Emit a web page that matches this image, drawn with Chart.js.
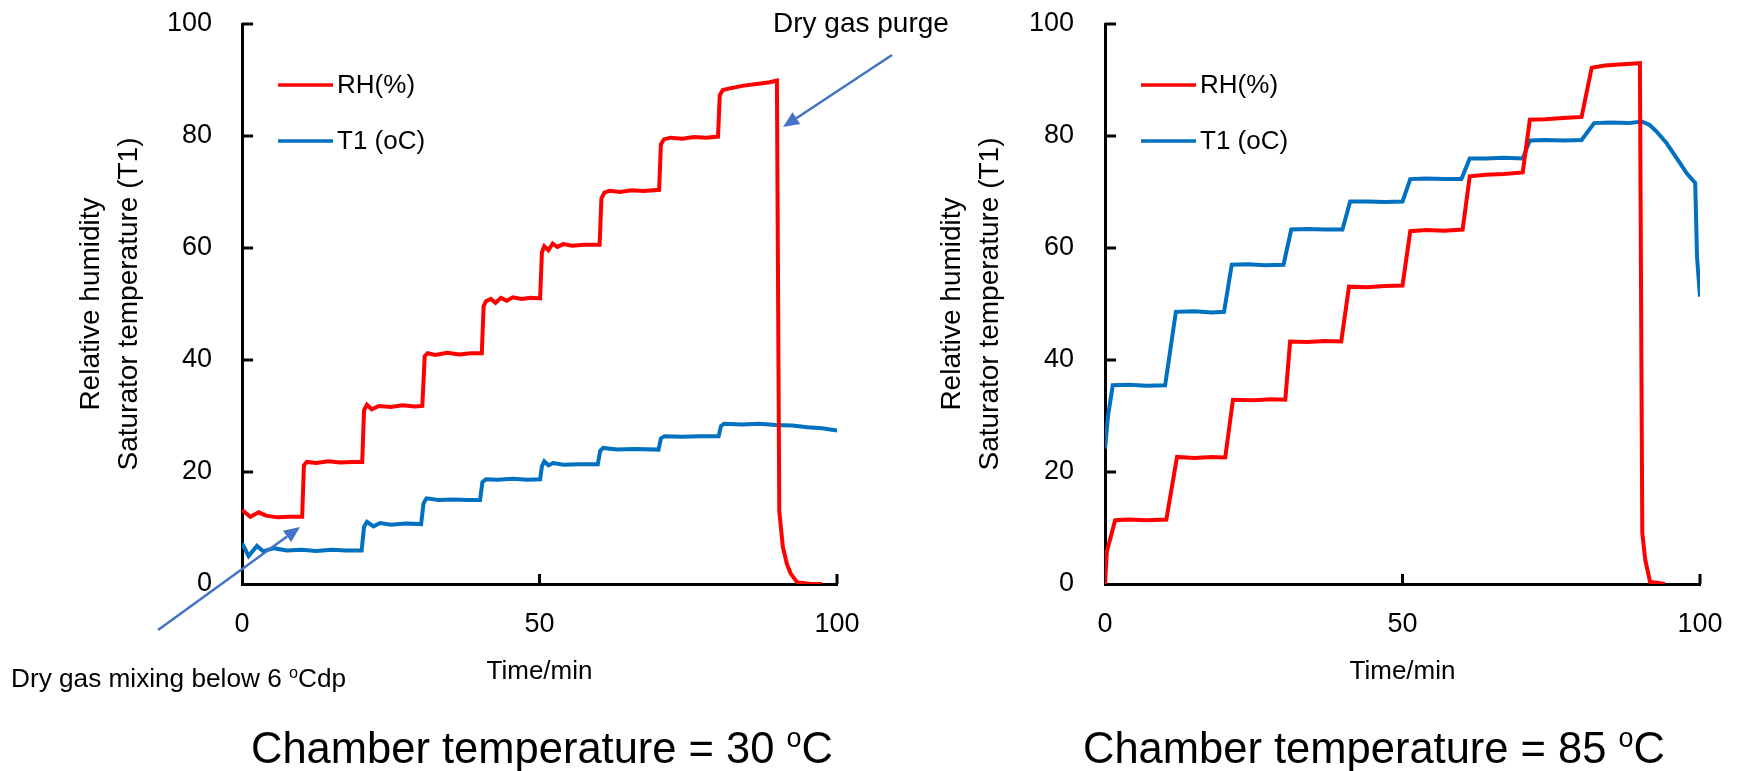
<!DOCTYPE html>
<html>
<head>
<meta charset="utf-8">
<script src="https://cdn.jsdelivr.net/npm/chart.js@4.4.0/dist/chart.umd.min.js"></script>
<style>
  html, body { margin: 0; padding: 0; background: #fff; }
  #wrap { position: relative; width: 1738px; height: 771px; overflow: hidden; background: #fff; }
  canvas { position: absolute; top: 0; }
  #c30 { left: 0; }
  #c85 { left: 869px; }
</style>
</head>
<body>
<div id="wrap">
  <canvas id="c30" width="960" height="771"></canvas>
  <canvas id="c85" width="869" height="771"></canvas>
</div>
<script>
// [time (min), value]
const rh30 = [
  [0, 13.2], [1.4, 12.0], [2.8, 12.8], [4.0, 12.2], [6.0, 11.9], [8.0, 12.0], [10.1, 12.0],
  [10.4, 21.2], [10.9, 21.8], [12.5, 21.6], [14.5, 21.9], [16.5, 21.7], [18.5, 21.8], [20.2, 21.8],
  [20.5, 31.0], [21.0, 32.0], [21.8, 31.2], [23.0, 31.8], [25.0, 31.6], [27.0, 31.9], [29.0, 31.7], [30.3, 31.8],
  [30.7, 40.7], [31.2, 41.2], [32.5, 40.9], [34.5, 41.3], [36.5, 41.0], [38.5, 41.2], [40.3, 41.2],
  [40.6, 49.6], [41.0, 50.5], [41.8, 50.9], [42.6, 50.2], [43.5, 51.1], [44.5, 50.6], [45.5, 51.2], [47.0, 50.9], [48.5, 51.1], [50.1, 51.0],
  [50.4, 59.2], [50.8, 60.3], [51.5, 59.6], [52.2, 60.8], [53.0, 60.2], [54.0, 60.7], [55.5, 60.4], [57.5, 60.6], [60.1, 60.6],
  [60.4, 68.8], [60.9, 69.9], [61.8, 70.2], [63.5, 70.0], [65.5, 70.3], [67.5, 70.2], [70.1, 70.4],
  [70.4, 78.5], [70.9, 79.4], [72.0, 79.7], [74.0, 79.5], [76.0, 79.8], [78.0, 79.7], [80.0, 79.9],
  [80.3, 87.3], [80.8, 88.2], [82.0, 88.5], [84.3, 89.0], [86.5, 89.3], [88.7, 89.6], [89.9, 89.9],
  [90.3, 13.0], [90.9, 6.6], [91.6, 3.5], [92.2, 1.9], [93.3, 0.3], [95.5, 0], [97.5, 0]
];
const t1_30 = [
  [0, 7.3], [1.1, 5.0], [2.5, 6.8], [3.6, 5.8], [5.3, 6.4], [7.5, 6.0], [10, 6.1], [12.5, 5.9], [15, 6.1], [17.5, 6.0], [20.1, 6.0],
  [20.5, 10.2], [21.0, 11.1], [22.1, 10.3], [23.2, 10.9], [25, 10.6], [27.5, 10.8], [30.1, 10.7],
  [30.5, 14.4], [31.0, 15.3], [33, 15.0], [35.5, 15.1], [38, 15.0], [40.0, 15.0],
  [40.4, 18.2], [41.0, 18.7], [43, 18.6], [45.5, 18.8], [48, 18.6], [50.1, 18.7],
  [50.4, 21.0], [50.8, 21.9], [51.5, 21.2], [52.3, 21.6], [54, 21.3], [56.5, 21.4], [59.8, 21.4],
  [60.2, 23.8], [60.7, 24.3], [63, 24.0], [66, 24.1], [70.0, 24.0],
  [70.4, 26.0], [71, 26.4], [74, 26.3], [77, 26.4], [80.1, 26.4],
  [80.5, 28.2], [81, 28.6], [84, 28.5], [87, 28.6], [89.7, 28.4], [92.5, 28.3], [95, 28.0], [97.5, 27.8], [100, 27.4]
];
const rh85 = [
  [0, 0], [0.3, 5.8], [1.7, 11.4], [4, 11.5], [7, 11.4], [10.3, 11.5],
  [12.1, 22.7], [15, 22.5], [18, 22.7], [20.2, 22.6],
  [21.5, 32.9], [25, 32.8], [28, 33.0], [30.3, 32.9],
  [31.1, 43.3], [34, 43.2], [37, 43.4], [39.7, 43.3],
  [41.0, 53.1], [44, 53.0], [47, 53.2], [50.0, 53.3],
  [51.3, 63.0], [54, 63.2], [57, 63.1], [60.1, 63.3],
  [61.3, 72.8], [64, 73.1], [67, 73.2], [70.2, 73.5],
  [71.4, 82.9], [74, 83.0], [77, 83.2], [80.1, 83.4],
  [81.8, 92.2], [84, 92.6], [87, 92.8], [89.9, 93.0],
  [90.3, 9.1], [90.8, 4.3], [91.6, 0.4], [94.1, 0]
];
const t1_85 = [
  [0, 24.2], [0.5, 30.0], [1.3, 35.5], [4, 35.6], [7, 35.4], [10.1, 35.5],
  [11.9, 48.6], [15, 48.7], [18, 48.5], [20.0, 48.6],
  [21.3, 57.0], [24, 57.1], [27, 56.9], [30.0, 57.0],
  [31.3, 63.3], [34, 63.4], [37, 63.3], [39.9, 63.3],
  [41.2, 68.3], [44, 68.3], [47, 68.2], [50.0, 68.3],
  [51.3, 72.3], [54, 72.4], [57, 72.3], [59.9, 72.3],
  [61.3, 76.0], [64, 76.0], [67, 76.1], [70.2, 76.0],
  [71.4, 79.2], [74, 79.3], [77, 79.2], [80.1, 79.3],
  [82.2, 82.3], [85, 82.4], [88, 82.3], [90.2, 82.6], [91.5, 82.0], [92.7, 80.8],
  [94.4, 78.7], [96.1, 76.0], [97.8, 73.3], [99.2, 71.6], [99.5, 58.4], [100, 51.3]
];
const seriesLabels = ['RH(%)', 'T1 (oC)'];
const seriesColors = ['#FF0000', '#0070C0'];
const xTickStep = 50;
const yTickStep = 20;
const yTitle = ['Relative humidity', 'Saturator temperature (T1)'];
const xTitle = 'Time/min';

Chart.defaults.font.family = '"Liberation Sans", Arial, sans-serif';
Chart.defaults.color = '#000';

function toPoints(arr) {
  return arr.map(p => ({x: p[0], y: p[1]}));
}

function drawArrow(ctx, x1, y1, x2, y2) {
  const ang = Math.atan2(y2 - y1, x2 - x1);
  const len = 16, half = 7;
  const bx = x2 - len * Math.cos(ang), by = y2 - len * Math.sin(ang);
  ctx.strokeStyle = '#4472C4';
  ctx.fillStyle = '#4472C4';
  ctx.lineWidth = 2.5;
  ctx.beginPath();
  ctx.moveTo(x1, y1);
  ctx.lineTo(bx, by);
  ctx.stroke();
  ctx.beginPath();
  ctx.moveTo(x2, y2);
  ctx.lineTo(bx + half * Math.sin(ang), by - half * Math.cos(ang));
  ctx.lineTo(bx - half * Math.sin(ang), by + half * Math.cos(ang));
  ctx.closePath();
  ctx.fill();
}

// text with a raised small "o"
function drawRich(ctx, t) {
  let x = t.x;
  ctx.fillStyle = '#000';
  ctx.textBaseline = 'alphabetic';
  ctx.textAlign = 'left';
  t.parts.forEach(([s, sup]) => {
    const size = sup ? t.size * 0.62 : t.size;
    ctx.font = size + 'px "Liberation Sans"';
    ctx.fillText(s, x, sup ? t.y - t.size * 0.36 : t.y);
    x += ctx.measureText(s).width;
  });
}

// short tick marks pointing into the plot
const innerTicks = {
  id: 'innerTicks',
  afterDraw(chart) {
    const {ctx, chartArea: a, scales: {x, y}} = chart;
    ctx.save();
    ctx.strokeStyle = '#000';
    ctx.lineWidth = 3;
    ctx.beginPath();
    y.ticks.forEach(t => {
      if (t.value === 0) return;
      const py = y.getPixelForValue(t.value);
      ctx.moveTo(a.left, py);
      ctx.lineTo(a.left + 11, py);
    });
    x.ticks.forEach(t => {
      if (t.value === 0) return;
      const px = x.getPixelForValue(t.value);
      ctx.moveTo(px, a.bottom);
      ctx.lineTo(px, a.bottom - 10);
    });
    ctx.stroke();
    ctx.restore();
  }
};

const lineLegend = {
  id: 'lineLegend',
  afterDraw(chart) {
    const {ctx, chartArea: a} = chart;
    ctx.save();
    ctx.font = '26px "Liberation Sans"';
    ctx.textBaseline = 'middle';
    chart.data.datasets.forEach((ds, i) => {
      const yy = a.top + 61 + i * 56;
      ctx.strokeStyle = ds.borderColor;
      ctx.lineWidth = 3.5;
      ctx.beginPath();
      ctx.moveTo(a.left + 36, yy);
      ctx.lineTo(a.left + 91, yy);
      ctx.stroke();
      ctx.fillStyle = '#000';
      ctx.fillText(ds.label, a.left + 95, yy + 1);
    });
    ctx.restore();
  }
};

const notes = {
  id: 'notes',
  afterDraw(chart, args, opts) {
    const ctx = chart.ctx;
    ctx.save();
    (opts.arrows || []).forEach(ar => drawArrow(ctx, ar[0], ar[1], ar[2], ar[3]));
    (opts.texts || []).forEach(t => drawRich(ctx, t));
    ctx.restore();
  }
};

function makeChart(id, rh, t1, pad, titlePad, yGap, notesOpts) {
  const ctx = document.getElementById(id).getContext('2d');
  return new Chart(ctx, {
    type: 'line',
    data: {
      datasets: [rh, t1].map((d, i) => ({
        label: seriesLabels[i],
        data: toPoints(d),
        borderColor: seriesColors[i],
        backgroundColor: seriesColors[i],
        borderWidth: 4,
        pointRadius: 0,
        tension: 0
      }))
    },
    options: {
      responsive: false,
      animation: false,
      devicePixelRatio: 1,
      layout: { padding: pad },
      plugins: {
        legend: { display: false },
        tooltip: { enabled: false },
        notes: notesOpts
      },
      scales: {
        x: {
          type: 'linear', min: 0, max: 100,
          ticks: { stepSize: xTickStep, color: '#000', font: { size: 27 }, padding: 0, maxRotation: 0 },
          grid: { drawOnChartArea: false, drawTicks: true, tickLength: 24.8, tickColor: 'rgba(0,0,0,0)' },
          border: { color: '#000', width: 3 },
          title: { display: true, text: xTitle, color: '#000', font: { size: 26 }, padding: { top: 15.2, bottom: 0 } }
        },
        y: {
          min: 0, max: 100,
          ticks: { stepSize: yTickStep, color: '#000', font: { size: 27 }, padding: 0 },
          grid: { drawOnChartArea: false, drawTicks: true, tickLength: yGap, tickColor: 'rgba(0,0,0,0)' },
          border: { color: '#000', width: 3 },
          title: { display: true, text: yTitle, color: '#000', font: { size: 28, lineHeight: 38 / 28 }, padding: titlePad }
        }
      }
    },
    plugins: [innerTicks, lineLegend, notes]
  });
}

makeChart('c30', rh30, t1_30,
  { left: 0, top: 24, right: 123, bottom: 83.4 },
  { top: 72, bottom: 19 }, 30,
  {
    arrows: [[892, 55, 783, 127], [158, 630, 300, 527]],
    texts: [
      { x: 773, y: 32, size: 28, parts: [['Dry gas purge']] },
      { x: 11, y: 687, size: 26.2, parts: [['Dry gas mixing below 6 '], ['o', true], ['Cdp']] },
      { x: 251, y: 763, size: 43.5, parts: [['Chamber temperature = 30 '], ['o', true], ['C']] }
    ]
  });

makeChart('c85', rh85, t1_85,
  { left: 0, top: 24, right: 38, bottom: 83.4 },
  { top: 64, bottom: 20 }, 31,
  {
    arrows: [],
    texts: [
      { x: 214, y: 763, size: 43.5, parts: [['Chamber temperature = 85 '], ['o', true], ['C']] }
    ]
  });
</script>
</body>
</html>
